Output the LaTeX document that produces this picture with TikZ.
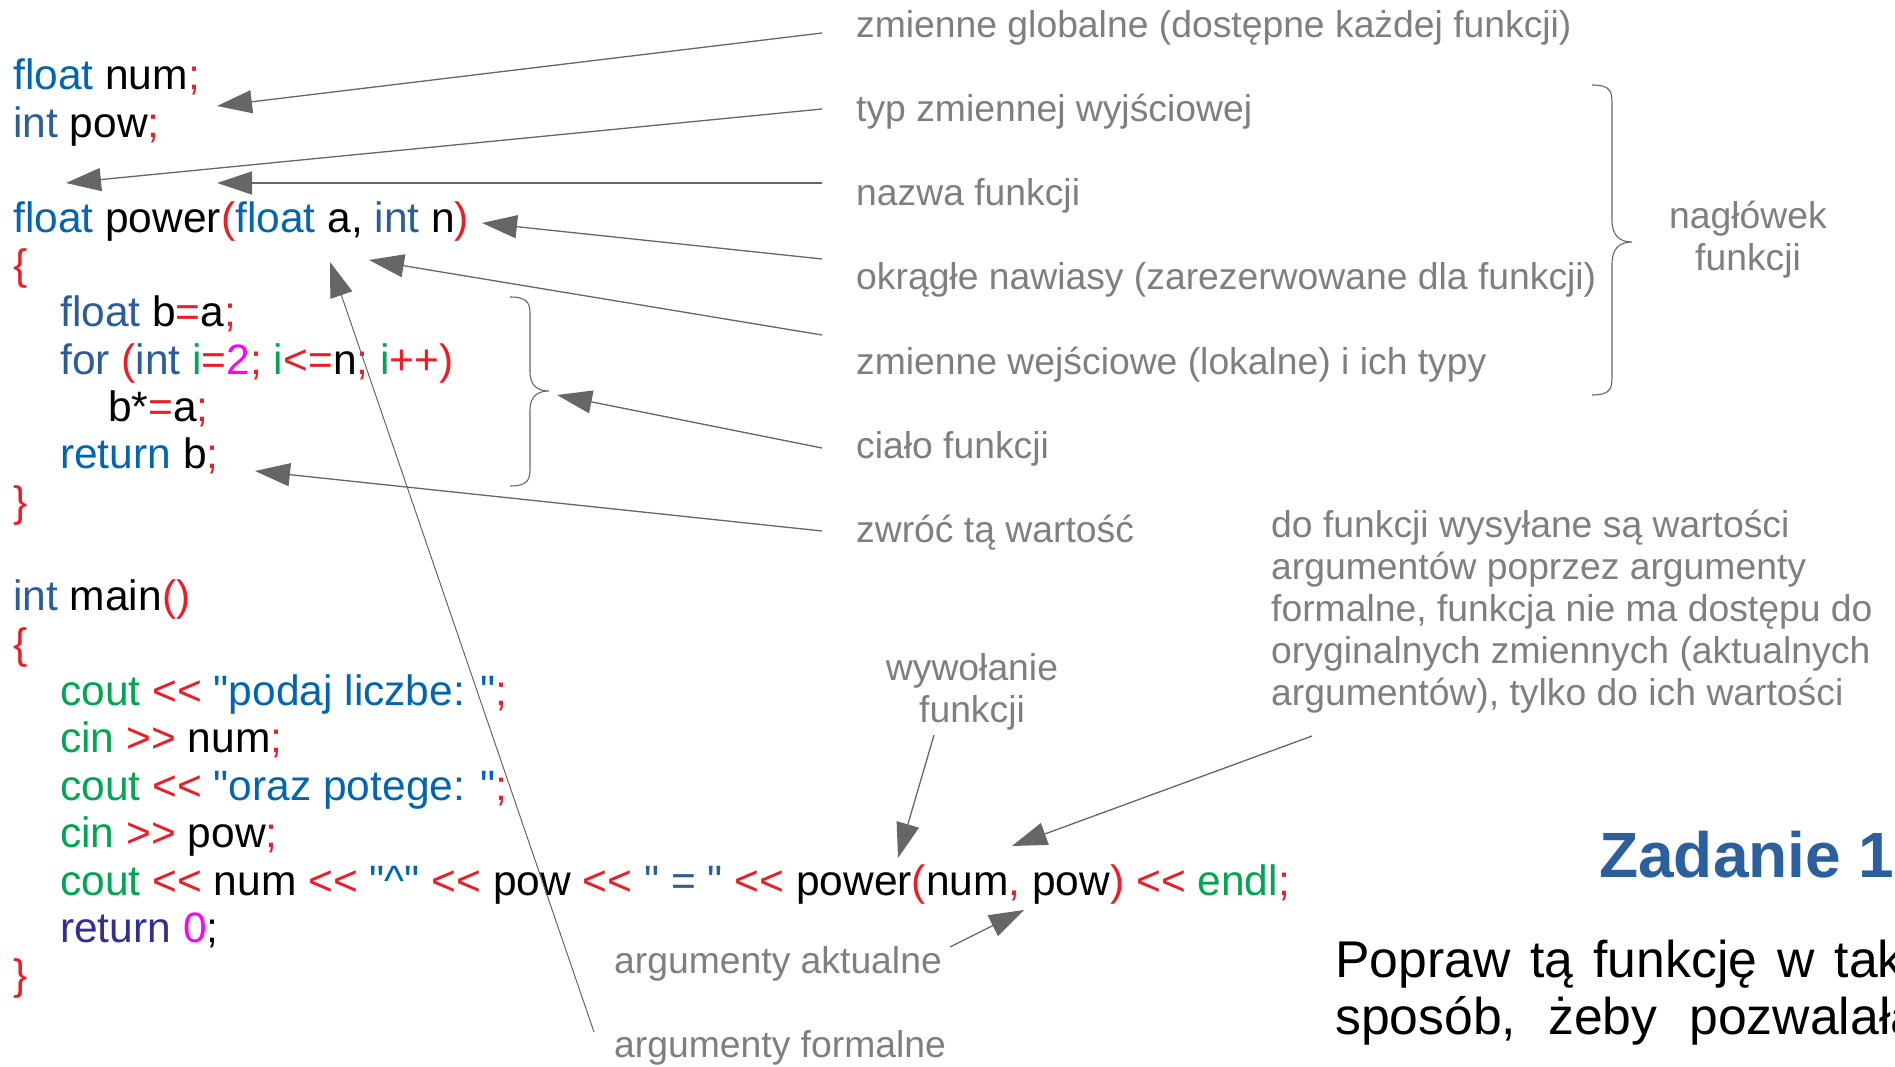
\documentclass[tikz,border=0pt]{standalone}
\usepackage{fontspec}
\setmainfont{Liberation Sans}
\newfontfamily\codef{Liberation Sans}
\usetikzlibrary{arrows.meta}
\definecolor{kwblue}{HTML}{0066B3}
\definecolor{kwdark}{HTML}{2C5D9A}
\definecolor{kwnavy}{HTML}{2E3192}
\definecolor{cred}{HTML}{EE1C25}
\definecolor{cgreen}{HTML}{00A651}
\definecolor{cmag}{HTML}{FF00FF}
\definecolor{lgray}{HTML}{7F7F7F}
\definecolor{agray}{HTML}{666666}
\definecolor{ztitle}{HTML}{2C5F9D}
\newcommand\cK[1]{\textcolor{kwblue}{#1}}
\newcommand\cI[1]{\textcolor{kwdark}{#1}}
\newcommand\cN[1]{\textcolor{kwnavy}{#1}}
\newcommand\cR[1]{\textcolor{cred}{#1}}
\newcommand\cG[1]{\textcolor{cgreen}{#1}}
\newcommand\cM[1]{\textcolor{cmag}{#1}}
\begin{document}
\begin{tikzpicture}[x=1pt,y=-1pt,
  code/.style={anchor=base west, inner sep=0pt, font={\codef\fontsize{42.5}{47}\selectfont}},
  lbl/.style={anchor=base west, inner sep=0pt, text=lgray, font={\fontsize{37.3}{42}\selectfont}},
  lblc/.style={lbl, anchor=base},
  arr/.style={draw=agray, line width=1.3pt, -{Triangle[length=35pt,width=23pt]}},
  bracepath/.style={draw=agray, line width=1.1pt},
  task/.style={anchor=base west, inner sep=0pt, font={\fontsize{51.7}{57}\selectfont}}]
\clip (0,0) rectangle (1895,1067);
\fill[white] (0,0) rectangle (1895,1067);
% ---------------- code ----------------
\node[code] (l1)  at (13,90)    {\cK{float} num\cR{;}};
\node[code] (l2)  at (13,137.4) {\cI{int} pow\cR{;}};
\node[code] (l4)  at (13,232.1) {\cK{float} power\cR{(}\cK{float} a, \cI{int} n\cR{)}};
\node[code] (l5)  at (13,279.4) {\cR{\{}};
\node[code] (l6)  at (60,326.8) {\cI{float} b\cR{=}a\cR{;}};
\node[code] (l7)  at (60,374.1) {\cI{for} \cR{(}\cI{int} \cG{i}\cR{=}\cM{2}\cR{;} \cG{i}\cR{<=}n\cR{;} \cG{i}\cR{++)}};
\node[code] (l8)  at (108,421.5) {b*\cR{=}a\cR{;}};
\node[code] (l9)  at (60,468.8) {\cK{return} b\cR{;}};
\node[code] (l10) at (13,516.2) {\cR{\}}};
\node[code] (l12) at (13,610.9) {\cI{int} main\cR{()}};
\node[code] (l13) at (13,658.2) {\cR{\{}};
\node[code] (l14) at (60,705.6) {\cG{cout} \cR{<<} \cK{"podaj liczbe: "}\cR{;}};
\node[code] (l15) at (60,752.9) {\cG{cin} \cR{>>} num\cR{;}};
\node[code] (l16) at (60,800.3) {\cG{cout} \cR{<<} \cK{"oraz potege: "}\cR{;}};
\node[code] (l17) at (60,847.6) {\cG{cin} \cR{>>} pow\cR{;}};
\node[code] (l18) at (60,895.0) {\cG{cout} \cR{<<} num \cR{<<} \cK{"\textasciicircum"} \cR{<<} pow \cR{<<} \cI{" = "} \cR{<<} power\cR{(}num\cR{,} pow\cR{)} \cR{<<} \cG{endl}\cR{;}};
\node[code] (l19) at (60,942.3) {\cN{return} \cM{0};};
\node[code] (l20) at (13,989.7) {\cR{\}}};
% ---------------- labels ----------------
\node[lbl] (g1) at (856,38)  {zmienne globalne (dostępne każdej funkcji)};
\node[lbl] (g2) at (856,122) {typ zmiennej wyjściowej};
\node[lbl] (g3) at (856,206) {nazwa funkcji};
\node[lbl] (g4) at (856,290) {okrągłe nawiasy (zarezerwowane dla funkcji)};
\node[lbl] (g5) at (856,374) {zmienne wejściowe (lokalne) i ich typy};
\node[lbl] (g6) at (856,458) {ciało funkcji};
\node[lbl] (g7) at (856,542) {zwróć tą wartość};
\node[lblc] (h1) at (1748,229) {nagłówek};
\node[lblc] (h2) at (1748,271) {funkcji};
\node[lbl] (p1) at (1271,537) {do funkcji wysyłane są wartości};
\node[lbl] (p2) at (1271,579) {argumentów poprzez argumenty};
\node[lbl] (p3) at (1271,621) {formalne, funkcja nie ma dostępu do};
\node[lbl] (p4) at (1271,663) {oryginalnych zmiennych (aktualnych};
\node[lbl] (p5) at (1271,705) {argumentów), tylko do ich wartości};
\node[lblc] (w1) at (972,680) {wywołanie};
\node[lblc] (w2) at (972,722) {funkcji};
\node[lbl] (aa) at (614,973)  {argumenty aktualne};
\node[lbl] (af) at (614,1057) {argumenty formalne};
% ---------------- task ----------------
\node[anchor=base west, inner sep=0pt, text=ztitle, font={\bfseries\fontsize{64}{70}\selectfont}] (zad) at (1599,877) {Zadanie 1};
\node[task] (t1) at (1335,977)  {Popraw\hspace{20pt}tą\hspace{20pt}funkcję\hspace{20pt}w\hspace{20pt}taki};
\node[task] (t2) at (1335,1034) {sposób,\hspace{32pt}żeby\hspace{32pt}pozwalała};
% ---------------- arrow coordinates ----------------
\coordinate (s1) at (822,33);   \coordinate (e1) at (217,106);
\coordinate (s2) at (822,109);  \coordinate (e2) at (66,183);
\coordinate (s3) at (822,183);  \coordinate (e3) at (217,183);
\coordinate (s4) at (822,259);  \coordinate (e4) at (482,223);
\coordinate (s5) at (822,335);  \coordinate (e5) at (369,260);
\coordinate (s6) at (822,448);  \coordinate (e6) at (557,395);
\coordinate (s7) at (822,531);  \coordinate (e7) at (255,471);
\coordinate (s8) at (594,1032); \coordinate (e8) at (330,262);
\coordinate (s9) at (934,735);  \coordinate (e9) at (898,858);
\coordinate (s10) at (1312,736); \coordinate (e10) at (1012,846);
\coordinate (s11) at (950,947);  \coordinate (e11) at (1024,910);
\draw[arr] (s1) -- (e1);
\draw[arr] (s2) -- (e2);
\draw[arr] (s3) -- (e3);
\draw[arr] (s4) -- (e4);
\draw[arr] (s5) -- (e5);
\draw[arr] (s6) -- (e6);
\draw[arr] (s7) -- (e7);
\draw[arr, line width=1pt] (s8) -- (e8);
\draw[arr] (s9) -- (e9);
\draw[arr] (s10) -- (e10);
\draw[arr] (s11) -- (e11);
% ---------------- braces ----------------
\draw[bracepath] (510,297) .. controls (530,297) and (530,305) .. (530,317)
  -- (530,372) .. controls (530,386) and (538,391) .. (549,391)
  .. controls (538,391) and (530,396) .. (530,410)
  -- (530,466) .. controls (530,478) and (530,486) .. (510,486);
\draw[bracepath] (1592,85) .. controls (1612,85) and (1612,93) .. (1612,105)
  -- (1612,220) .. controls (1612,236) and (1620,242) .. (1632,242)
  .. controls (1620,242) and (1612,248) .. (1612,264)
  -- (1612,375) .. controls (1612,387) and (1612,395) .. (1592,395);
\end{tikzpicture}
\end{document}
